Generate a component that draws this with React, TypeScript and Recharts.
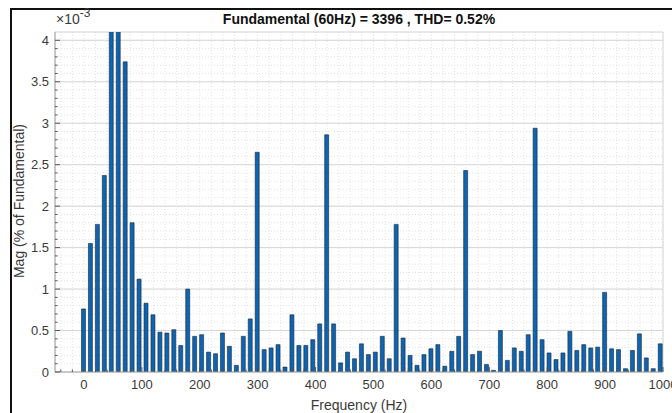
import { Bar, BarChart, CartesianGrid, XAxis, YAxis } from "recharts";

// FFT bins (Hz) and magnitudes (x1e-3 % of fundamental)
const freqs = [
  0, 12, 24, 36, 48, 60, 72, 84, 96, 108, 120, 132, 144, 156, 168, 180, 192, 204, 216, 228,
  240, 252, 264, 276, 288, 300, 312, 324, 336, 348, 360, 372, 384, 396, 408, 420, 432, 444,
  456, 468, 480, 492, 504, 516, 528, 540, 552, 564, 576, 588, 600, 612, 624, 636, 648, 660,
  672, 684, 696, 708, 720, 732, 744, 756, 768, 780, 792, 804, 816, 828, 840, 852, 864, 876,
  888, 900, 912, 924, 936, 948, 960, 972, 984, 996,
];
const mags = [
  0.76, 1.55, 1.78, 2.37, 4.6, 4.9, 3.74, 1.8, 1.12, 0.83, 0.69, 0.48, 0.47, 0.51, 0.32, 1.0,
  0.43, 0.45, 0.24, 0.22, 0.47, 0.31, 0.08, 0.43, 0.64, 2.65, 0.27, 0.29, 0.33, 0.06, 0.69,
  0.32, 0.32, 0.39, 0.58, 2.86, 0.58, 0.11, 0.24, 0.16, 0.34, 0.21, 0.24, 0.43, 0.16, 1.78,
  0.41, 0.2, 0.08, 0.21, 0.28, 0.33, 0.07, 0.25, 0.43, 2.43, 0.21, 0.25, 0.09, 0.02, 0.5,
  0.14, 0.29, 0.25, 0.45, 2.94, 0.39, 0.23, 0.15, 0.23, 0.49, 0.26, 0.33, 0.29, 0.3, 0.96,
  0.28, 0.27, 0.04, 0.26, 0.46, 0.17, 0.04, 0.34,
];
const xMajorTicks = [0, 100, 200, 300, 400, 500, 600, 700, 800, 900, 1000];
const yMajorTicks = [0, 0.5, 1, 1.5, 2, 2.5, 3, 3.5, 4];

// minor grid / tick positions
const xAllTicks: number[] = [];
for (let v = -40; v <= 1000; v += 20) xAllTicks.push(v);
const yAllTicks: number[] = [];
for (let i = 0; i <= 40; i++) yAllTicks.push(Math.round(i) / 10);

const data = freqs.map((f, i) => ({ f, mag: mags[i] }));

const font = "'Liberation Sans', Arial, Helvetica, sans-serif";
const tickColor = "#555";
const textColor = "#3a3a3a";

const isXMajor = (v: number) => xMajorTicks.includes(v);
const isYMajor = (v: number) => yMajorTicks.some((t) => Math.abs(t - v) < 1e-6);

function BottomTick({ x, y, payload }: any) {
  const major = isXMajor(payload.value);
  const ay = y - 8;
  return (
    <g>
      <line x1={x} x2={x} y1={ay} y2={ay - (major ? 5 : 2.5)} stroke={tickColor} />
      {major && (
        <text x={x} y={y} dy="0.71em" textAnchor="middle" fontSize={13} fill={textColor} fontFamily={font}>
          {payload.value}
        </text>
      )}
    </g>
  );
}

function TopTick({ x, y, payload }: any) {
  const major = isXMajor(payload.value);
  return <line x1={x} x2={x} y1={y} y2={y + (major ? 5 : 2.5)} stroke={tickColor} />;
}

function LeftTick({ x, y, payload }: any) {
  const major = isYMajor(payload.value);
  const ax = x + 6;
  return (
    <g>
      <line x1={ax} x2={ax + (major ? 5 : 2.5)} y1={y} y2={y} stroke={tickColor} />
      {major && (
        <text x={x} y={y} dy="0.36em" textAnchor="end" fontSize={13} fill={textColor} fontFamily={font}>
          {payload.value}
        </text>
      )}
    </g>
  );
}

function RightTick({ x, y, payload }: any) {
  const major = isYMajor(payload.value);
  return <line x1={x} x2={x - (major ? 5 : 2.5)} y1={y} y2={y} stroke={tickColor} />;
}

export default function App() {
  return (
    <div
      style={{
        position: "absolute",
        left: 0,
        top: 0,
        width: 672,
        height: 413,
        background: "#fff",
        overflow: "hidden",
        fontFamily: font,
      }}
    >
      <div
        style={{
          position: "absolute",
          left: 10,
          top: 8,
          width: 700,
          height: 420,
          borderTop: "2px solid #111",
          borderLeft: "2px solid #111",
        }}
      />
      <BarChart
        width={672}
        height={413}
        data={data}
        margin={{ top: 32, right: 9, left: 0, bottom: 0 }}
        barSize={4}
        style={{ position: "absolute", left: 0, top: 0 }}
      >
        <CartesianGrid xAxisId={0} yAxisId={0} stroke="#e2e2e2" strokeDasharray="1 2" />
        <CartesianGrid xAxisId="major" yAxisId="major" stroke="#d6d6d6" strokeDasharray="" />
        <XAxis
          dataKey="f"
          type="number"
          domain={[-50, 1000]}
          ticks={xAllTicks}
          interval={0}
          allowDataOverflow
          height={41}
          axisLine={{ stroke: "#a8a8a8" }}
          tickLine={false}
          tickSize={0}
          tickMargin={8}
          tick={<BottomTick />}
        />
        <XAxis
          xAxisId="top"
          orientation="top"
          type="number"
          domain={[-50, 1000]}
          ticks={xAllTicks}
          interval={0}
          allowDataOverflow
          height={0}
          axisLine={{ stroke: "#a8a8a8" }}
          tickLine={false}
          tickSize={0}
          tickMargin={0}
          tick={<TopTick />}
        />
        <XAxis
          xAxisId="major"
          type="number"
          domain={[-50, 1000]}
          ticks={xMajorTicks}
          interval={0}
          allowDataOverflow
          height={0}
          hide
        />
        <YAxis
          type="number"
          domain={[0, 4.1]}
          ticks={yAllTicks}
          interval={0}
          allowDataOverflow
          width={55}
          axisLine={{ stroke: "#a8a8a8" }}
          tickLine={false}
          tickSize={0}
          tickMargin={6}
          tick={<LeftTick />}
        />
        <YAxis
          yAxisId="right"
          orientation="right"
          type="number"
          domain={[0, 4.1]}
          ticks={yAllTicks}
          interval={0}
          allowDataOverflow
          width={0}
          axisLine={{ stroke: "#a8a8a8" }}
          tickLine={false}
          tickSize={0}
          tickMargin={0}
          tick={<RightTick />}
        />
        <YAxis
          yAxisId="major"
          type="number"
          domain={[0, 4.1]}
          ticks={yMajorTicks}
          interval={0}
          allowDataOverflow
          width={0}
          hide
        />
        <Bar dataKey="mag" fill="#0d64b2" stroke="#1a2633" strokeWidth={0.6} isAnimationActive={false} />
      </BarChart>
      <div
        style={{
          position: "absolute",
          left: 0,
          width: 718,
          top: 11,
          textAlign: "center",
          fontSize: 14,
          fontWeight: "bold",
          color: "#111",
          whiteSpace: "nowrap",
        }}
      >
        Fundamental (60Hz) = 3396 , THD= 0.52%
      </div>
      <div style={{ position: "absolute", left: 56, top: 11, fontSize: 14, color: textColor }}>
        ×10<sup style={{ fontSize: 12, verticalAlign: "top", position: "relative", top: -5 }}>-3</sup>
      </div>
      <div
        style={{
          position: "absolute",
          left: 359,
          top: 405,
          transform: "translate(-50%, -50%)",
          fontSize: 14,
          color: textColor,
          whiteSpace: "nowrap",
        }}
      >
        Frequency (Hz)
      </div>
      <div
        style={{
          position: "absolute",
          left: 19,
          top: 201,
          transform: "translate(-50%, -50%) rotate(-90deg)",
          fontSize: 14,
          color: textColor,
          whiteSpace: "nowrap",
        }}
      >
        Mag (% of Fundamental)
      </div>
    </div>
  );
}
